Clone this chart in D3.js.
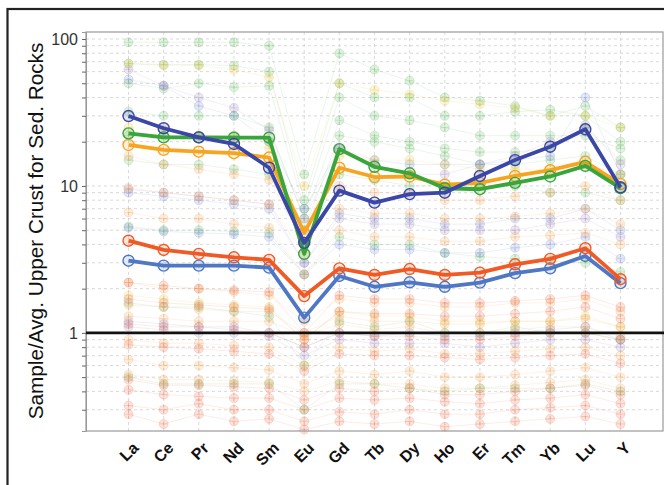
<!DOCTYPE html>
<html><head><meta charset="utf-8">
<script src="https://cdn.jsdelivr.net/npm/d3@7"></script>
<style>body{margin:0;background:#fff}svg{display:block}</style>
</head><body><svg id="c" width="664" height="485"></svg>
<script>
const elements = ["La","Ce","Pr","Nd","Sm","Eu","Gd","Tb","Dy","Ho","Er","Tm","Yb","Lu","Y"];
const yTickLabels = [1, 10, 100];

// highlighted averages
const darkBlue  = [29.9,24.7,21.4,19.3,13.3,4.1,9.3,7.7,8.8,9.0,11.7,15.0,18.5,24.3,9.8];
const green     = [22.8,21.4,21.4,21.3,21.3,3.45,17.8,13.5,12.2,9.65,9.5,10.5,11.6,13.7,9.65];
const orange    = [19.0,17.6,17.1,16.7,15.6,4.8,13.3,11.5,11.6,10.2,10.5,11.7,12.8,14.6,10.3];
const redOrange = [4.24,3.67,3.45,3.27,3.14,1.78,2.75,2.48,2.72,2.48,2.57,2.93,3.19,3.77,2.32];
const midBlue   = [3.10,2.87,2.87,2.87,2.78,1.27,2.44,2.06,2.21,2.06,2.20,2.55,2.75,3.34,2.18];

// faint individual samples
const bgGreen = [
 [95,95,95,95,90,12,80,62,52,40,38,35,30,35,25],
 [68,67,67,66,60,8,50,40,40,30,30,32,33,30,20],
 [50,46,50,47,48,7,40,30,28,25,22,22,22,22,18],
 [32,30,30,30,25,6,28,22,20,18,17,17,18,25,15],
 [22,22,22,22,20,5,22,20,18,16,14,14,15,16,12],
 [15,14,14,13,12,4,12,11,10,10,10,10,9,9,8],
 [5.3,5,5,4.9,4.8,2.5,4.5,4,4,3.5,3.3,3.2,3.1,3,2.6],
 [1.6,1.5,1.5,1.4,1.3,0.6,1.2,1.1,1.2,1,1,1.1,1,1.0,0.9],
 [0.5,0.45,0.45,0.45,0.45,0.3,0.45,0.45,0.42,0.4,0.42,0.42,0.42,0.45,0.4]
];
const bgBlue = [
 [53,48,35,30,20,7,18,15,14,14,14,15,16,40,12],
 [9,8.5,8,7.5,7,3,6.5,6,6,5.5,5.5,6,6,7,5],
 [5.2,4.9,4.8,4.7,4.5,2.5,4,3.7,3.7,3.5,3.5,3.8,4,4.5,3.2],
 [1.2,1.15,1.1,1.1,1.0,0.8,1.0,0.95,1.0,0.95,0.95,1,1.05,1.1,0.9]
];
const bgPurple = [
 [62,48,40,34,24,6,18,14,12,12,14,16,20,26,14],
 [9.5,9,8.5,8,7.5,3,6,5.5,5.5,5,5,5,5.5,6,4.5],
 [1.1,1.05,1.0,1.0,0.95,0.7,0.9,0.85,0.85,0.85,0.8,0.85,0.9,0.9,0.8]
];
const bgYellow = [
 [68,66,66,62,55,10,50,45,42,38,36,34,30,30,25],
 [25,24,22,21,18,5,16,15,15,14,13,13,13,14,12],
 [1.8,1.7,1.6,1.55,1.5,0.9,1.4,1.3,1.3,1.2,1.2,1.2,1.2,1.3,1.1]
];
const bgOrange = [
 [16,14,13,12,11,4,10,9,9,8,8,8.5,9,10,8],
 [9.7,9,8.5,8,7.5,3.5,7,6.5,6.5,6,6,6.2,6.5,7,5.5],
 [6.6,6,6,5.5,5.2,2.5,5,4.5,4.5,4.2,4.2,4.5,4.6,4.8,4],
 [2.2,2,2,1.9,1.8,1.2,1.7,1.6,1.6,1.5,1.5,1.6,1.6,1.7,1.4],
 [1.55,1.5,1.45,1.4,1.4,1.0,1.3,1.2,1.2,1.15,1.15,1.2,1.2,1.25,1.1],
 [1.3,1.25,1.2,1.2,1.2,0.95,1.15,1.05,1.1,1.0,1.0,1.05,1.1,1.1,0.95],
 [0.9,0.85,0.85,0.82,0.8,0.6,0.8,0.75,0.78,0.72,0.72,0.75,0.78,0.8,0.7],
 [0.66,0.6,0.6,0.58,0.56,0.45,0.55,0.52,0.55,0.5,0.5,0.52,0.55,0.58,0.5],
 [0.52,0.48,0.48,0.47,0.46,0.4,0.47,0.45,0.45,0.42,0.42,0.44,0.46,0.48,0.42]
];
const bgRed = [
 [2.2,2.1,2.0,1.95,1.9,1.0,1.8,1.7,1.7,1.6,1.6,1.65,1.7,1.8,1.5],
 [1.7,1.6,1.55,1.5,1.45,0.9,1.4,1.35,1.35,1.3,1.3,1.35,1.4,1.5,1.25],
 [1.15,1.1,1.1,1.05,1.0,0.8,1.0,0.95,0.95,0.9,0.9,0.95,1.0,1.0,0.9],
 [0.83,0.8,0.78,0.75,0.72,0.55,0.72,0.7,0.7,0.68,0.66,0.68,0.7,0.72,0.62],
 [0.48,0.44,0.44,0.43,0.42,0.35,0.42,0.4,0.42,0.38,0.38,0.4,0.42,0.44,0.38],
 [0.41,0.38,0.37,0.36,0.36,0.3,0.36,0.35,0.36,0.34,0.33,0.35,0.36,0.38,0.33],
 [0.32,0.3,0.33,0.3,0.3,0.25,0.29,0.28,0.3,0.28,0.28,0.3,0.31,0.32,0.28],
 [0.28,0.24,0.28,0.25,0.26,0.22,0.25,0.24,0.25,0.23,0.24,0.25,0.26,0.27,0.24]
];

const svg = d3.select("#c");
const L = 86, R = 663, T = 32, B = 431;
const x = d3.scalePoint().domain(elements).range([L, R]).padding(1.21);
const y = d3.scaleLog().domain([0.215, 111.6]).range([B, T]);

// outer frame
svg.append("rect").attr("x",7.5).attr("y",9).attr("width",720).attr("height",520)
  .attr("fill","none").attr("stroke","#222").attr("stroke-width",2.2);

// grid
const minor = [];
[0.1,1,10].forEach(d => { for (let k=1;k<10;k++){ const v=d*k; if (v>=0.215 && v<=111.6) minor.push(v);} });
minor.push(100);
const grid = svg.append("g");
grid.selectAll("line.h").data(minor).join("line")
  .attr("x1",L).attr("x2",R).attr("y1",d=>y(d)).attr("y2",d=>y(d))
  .attr("stroke","#cfcfcf").attr("stroke-width",0.8).attr("stroke-dasharray","3,3");
grid.selectAll("line.v").data(elements).join("line")
  .attr("x1",d=>x(d)).attr("x2",d=>x(d)).attr("y1",T).attr("y2",B)
  .attr("stroke","#cfcfcf").attr("stroke-width",0.8).attr("stroke-dasharray","3,3");

// faint samples
const line = d3.line().x((d,i)=>x(elements[i])).y(d=>y(d));
const bgGroups = [
  [bgGreen,"#6dbd6a"],[bgBlue,"#7d8fd8"],[bgPurple,"#a48ac0"],
  [bgYellow,"#e8c848"],[bgOrange,"#f4a860"],[bgRed,"#f07a58"]
];
const bg = svg.append("g");
bgGroups.forEach(([set,col]) => {
  set.forEach(s => {
    bg.append("path").attr("d",line(s)).attr("fill","none")
      .attr("stroke",col).attr("stroke-opacity",0.18).attr("stroke-width",0.8);
    const g = bg.append("g");
    s.forEach((v,i) => {
      const cx = x(elements[i]), cy = y(v);
      g.append("circle").attr("cx",cx).attr("cy",cy).attr("r",4.5)
        .attr("fill",col).attr("fill-opacity",0.2).attr("stroke",col).attr("stroke-opacity",0.25);
      g.append("path").attr("d",`M${cx-4},${cy}H${cx+4}M${cx},${cy-4}V${cy+4}`)
        .attr("stroke",col).attr("stroke-opacity",0.3).attr("stroke-width",0.8);
    });
  });
});

// plot border
svg.append("rect").attr("x",L).attr("y",T).attr("width",R-L).attr("height",B-T)
  .attr("fill","none").attr("stroke","#999").attr("stroke-width",1.2);

// y axis ticks
const yAxis = d3.axisLeft(y).tickValues(minor).tickSize(4)
  .tickFormat(d => yTickLabels.includes(d) ? d3.format("d")(d) : "");
const ya = svg.append("g").attr("transform",`translate(${L},0)`).call(yAxis);
ya.select(".domain").attr("stroke","#999");
ya.selectAll(".tick line").attr("stroke","#666");
ya.selectAll("text").attr("font-family","Liberation Sans, Arial, sans-serif")
  .attr("font-size",16).attr("fill","#333").attr("dx",-1);

// reference line at 1
svg.append("line").attr("x1",L).attr("x2",664).attr("y1",y(1)).attr("y2",y(1))
  .attr("stroke","#111").attr("stroke-width",2.6);

// highlighted series
const main = [
  [midBlue,"#4f77c4"],[redOrange,"#f05a24"],[orange,"#f7a521"],[green,"#3aa53a"],[darkBlue,"#3a47a6"]
];
const mg = svg.append("g");
main.forEach(([s,col]) => {
  mg.append("path").attr("d",line(s)).attr("fill","none").attr("stroke",col)
    .attr("stroke-width",3.8).attr("stroke-linejoin","round");
  mg.append("g").selectAll("circle").data(s).join("circle")
    .attr("cx",(d,i)=>x(elements[i])).attr("cy",d=>y(d)).attr("r",5.5)
    .attr("fill",col).attr("fill-opacity",0.15).attr("stroke",col).attr("stroke-width",1.4);
});

// x labels
svg.append("g").selectAll("text").data(elements).join("text")
  .attr("transform",d=>`translate(${x(d)+11},${449}) rotate(-45)`)
  .attr("text-anchor","end")
  .attr("font-family","Liberation Sans, Arial, sans-serif").attr("font-weight","bold")
  .attr("font-size",16).attr("fill","#111").text(d=>d);

// y title
const yt = svg.append("text").attr("transform","translate(43,231) rotate(-90)")
  .attr("text-anchor","middle").attr("font-family","Liberation Sans, Arial, sans-serif")
  .attr("font-size",20).attr("fill","#111").text("Sample/Avg. Upper Crust for Sed. Rocks");
const len = yt.node().getComputedTextLength();
yt.attr("font-size", 20*377/len);
</script></body></html>
